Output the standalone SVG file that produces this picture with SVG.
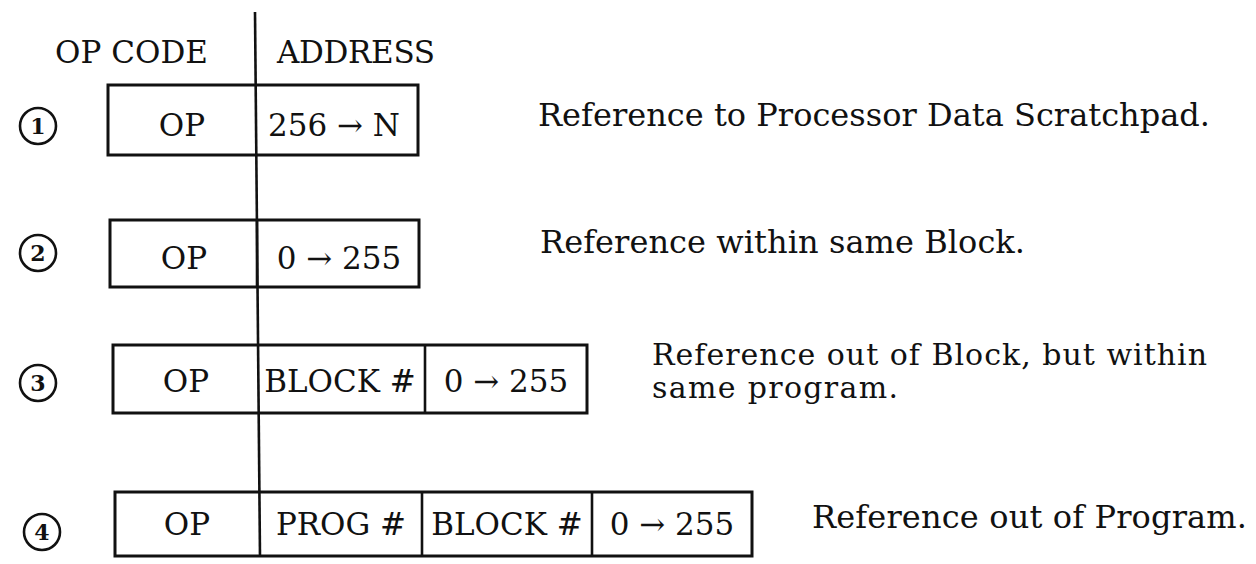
<svg xmlns="http://www.w3.org/2000/svg" width="1256" height="564" viewBox="0 0 1256 564">
<style>
text { font-family: "DejaVu Serif", "Liberation Serif", serif; fill: #111; }
.hdr { font-size: 31px; }
.lbl { font-size: 32px; }
.lbl2 { font-size: 30px; }
.cell { font-size: 31px; text-anchor: middle; }
.num { font-size: 22px; text-anchor: middle; font-weight: bold; }
.box { fill: none; stroke: #111; stroke-width: 3; }
.div { stroke: #111; stroke-width: 2.6; }
.circ { fill: none; stroke: #111; stroke-width: 2.6; }
</style>
<rect width="1256" height="564" fill="#ffffff"/>
<g id="headers">
  <text class="hdr" x="55" y="63" textLength="153">OP CODE</text>
  <text class="hdr" x="277" y="63" textLength="158">ADDRESS</text>
</g>
<g id="connectors">
  <line class="div" x1="255" y1="12" x2="260" y2="557"/>
</g>
<g id="row1">
  <circle class="circ" cx="38" cy="126" r="18"/>
  <text class="num" x="38" y="134">1</text>
  <rect class="box" x="108" y="85" width="310" height="70"/>
  <text class="cell" x="182" y="136">OP</text>
  <text class="cell" x="334" y="136">256 → N</text>
  <text class="lbl" x="538" y="126" textLength="672">Reference to Processor Data Scratchpad.</text>
</g>
<g id="row2">
  <circle class="circ" cx="38" cy="253" r="18"/>
  <text class="num" x="38" y="261">2</text>
  <rect class="box" x="110" y="220" width="309" height="67"/>
  <line class="div" x1="257" y1="220" x2="257" y2="287"/>
  <text class="cell" x="184" y="269">OP</text>
  <text class="cell" x="339" y="269">0 → 255</text>
  <text class="lbl" x="540" y="253" textLength="485">Reference within same Block.</text>
</g>
<g id="row3">
  <circle class="circ" cx="38" cy="383" r="18"/>
  <text class="num" x="38" y="391">3</text>
  <rect class="box" x="113" y="345" width="474" height="68"/>
  <line class="div" x1="425" y1="345" x2="425" y2="413"/>
  <text class="cell" x="186" y="392">OP</text>
  <text class="cell" x="340" y="392">BLOCK #</text>
  <text class="cell" x="506" y="392">0 → 255</text>
  <text class="lbl2" x="652" y="365" textLength="555">Reference out of Block, but within</text>
  <text class="lbl2" x="652" y="398" textLength="246">same program.</text>
</g>
<g id="row4">
  <circle class="circ" cx="42" cy="532" r="18"/>
  <text class="num" x="42" y="540">4</text>
  <rect class="box" x="115" y="492" width="637" height="64"/>
  <line class="div" x1="422" y1="492" x2="422" y2="556"/>
  <line class="div" x1="592" y1="492" x2="592" y2="556"/>
  <text class="cell" x="187" y="535">OP</text>
  <text class="cell" x="341" y="535">PROG #</text>
  <text class="cell" x="507" y="535">BLOCK #</text>
  <text class="cell" x="672" y="535">0 → 255</text>
  <text class="lbl" x="812" y="528" textLength="435">Reference out of Program.</text>
</g>
</svg>
